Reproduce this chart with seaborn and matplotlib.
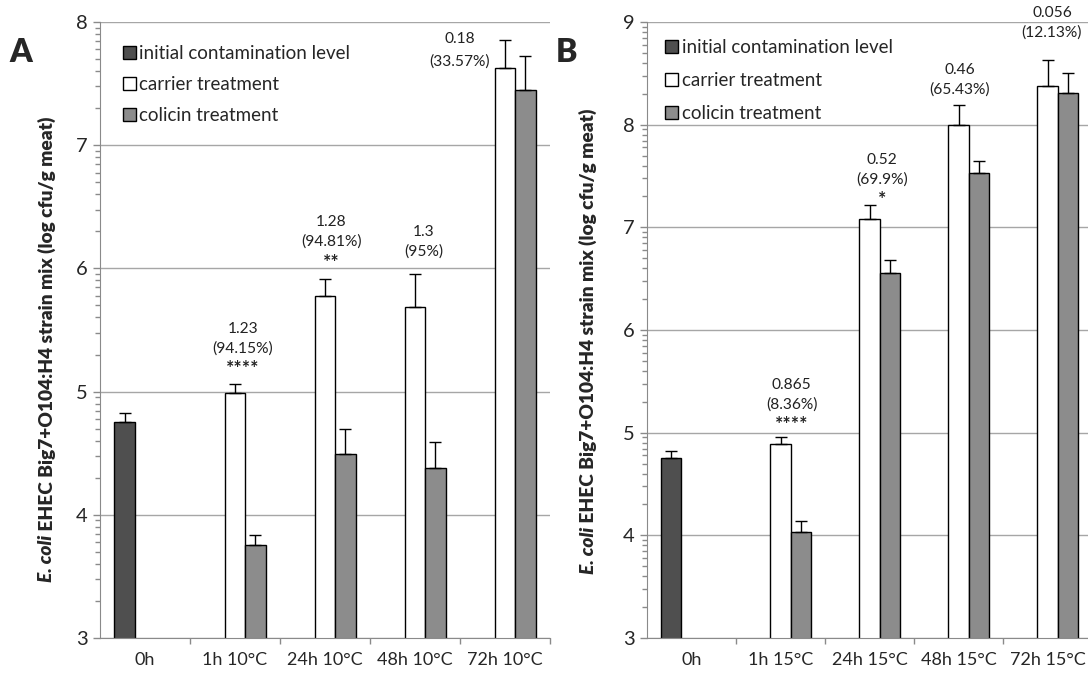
import numpy as np
import pandas as pd
import matplotlib
matplotlib.use("Agg")
import matplotlib.pyplot as plt
import matplotlib.patches as mpatches
import seaborn as sns

# series / colours
series = ["initial contamination level", "carrier treatment", "colicin treatment"]
colors = ["#4f4f4f", "#ffffff", "#8c8c8c"]

# panel A (10 °C)
times_a = ["0h", "1h 10°C", "24h 10°C", "48h 10°C", "72h 10°C"]
initial_a = [4.755, np.nan, np.nan, np.nan, np.nan]
carrier_a = [np.nan, 4.99, 5.78, 5.685, 7.63]
colicin_a = [np.nan, 3.756, 4.497, 4.38, 7.446]
initial_a_err = [0.068, np.nan, np.nan, np.nan, np.nan]
carrier_a_err = [np.nan, 0.075, 0.138, 0.266, 0.227]
colicin_a_err = [np.nan, 0.08, 0.196, 0.207, 0.276]

# panel B (15 °C)
times_b = ["0h", "1h 15°C", "24h 15°C", "48h 15°C", "72h 15°C"]
initial_b = [4.749, np.nan, np.nan, np.nan, np.nan]
carrier_b = [np.nan, 4.886, 7.082, 7.993, 8.377]
colicin_b = [np.nan, 4.033, 6.56, 7.525, 8.311]
initial_b_err = [0.072, np.nan, np.nan, np.nan, np.nan]
carrier_b_err = [np.nan, 0.068, 0.14, 0.194, 0.249]
colicin_b_err = [np.nan, 0.107, 0.12, 0.124, 0.191]

# reduction labels: (group, x shift, [(text, y), ...])
notes_a = [
    (1, 0.09, [("1.23", 5.511), ("(94.15%)", 5.353), ("****", 5.19)]),
    (2, 0.07, [("1.28", 6.378), ("(94.81%)", 6.217), ("**", 6.05)]),
    (3, 0.10, [("1.3", 6.299), ("(95%)", 6.136)]),
    (4, -0.5, [("0.18", 7.865), ("(33.57%)", 7.676)]),
]
notes_b = [
    (1, 0.127, [("0.865", 5.46), ("(8.36%)", 5.27), ("****", 5.08)]),
    (2, 0.14, [("0.52", 7.656), ("(69.9%)", 7.469), ("*", 7.27)]),
    (3, 0.01, [("0.46", 8.528), ("(65.43%)", 8.338)]),
    (4, 0.05, [("0.056", 9.085), ("(12.13%)", 8.895)]),
]

sns.set_style("white")
plt.rcParams['font.family'] = ['Lato', 'DejaVu Sans']

grid_col = "#a6a6a6"
axis_col = "#8a8a8a"


def long_table(times, vals, errs):
    rows = []
    for s, v, e in zip(series, vals, errs):
        for t, y, err in zip(times, v, e):
            if not np.isnan(y):
                rows.append({"time": t, "series": s, "value": y, "err": err})
    return pd.DataFrame(rows)


def draw_panel(ax, times, vals, errs, ymax, notes):
    df = long_table(times, vals, errs)
    sns.barplot(data=df, x="time", y="value", hue="series", order=times,
                hue_order=series, palette=colors, width=0.68, dodge=True,
                edgecolor="black", linewidth=1, errorbar=None, legend=False,
                saturation=1, ax=ax, zorder=2)
    # plus-only error bars at the bar tops
    for cont, s in zip(ax.containers, series):
        sub = df[df["series"] == s]
        for bar in cont:
            h = bar.get_height()
            if np.isnan(h):
                continue
            err = sub.loc[np.isclose(sub["value"], h), "err"].iloc[0]
            xc = bar.get_x() + bar.get_width() / 2
            ax.errorbar(xc, h, yerr=[[0], [err]], fmt="none", ecolor="black",
                        elinewidth=1, capsize=4.3, capthick=1, zorder=3)

    ax.set_ylim(3, ymax)
    ax.set_xlim(-0.5, 4.5)
    ax.set_yticks(range(3, ymax + 1))
    ax.set_yticks([n + np.log10(k) for n in range(3, ymax) for k in range(2, 10)], minor=True)
    ax.set_xticks(range(len(times)))
    ax.set_xticks([i + 0.5 for i in range(len(times))], minor=True)
    ax.set_xticklabels(times)
    ax.set_xlabel("")
    ax.set_ylabel("")
    ax.yaxis.grid(True, which="major", color=grid_col, lw=1)
    ax.set_axisbelow(True)
    for side in ["top", "right"]:
        ax.spines[side].set_visible(False)
    for side in ["left", "bottom"]:
        ax.spines[side].set_color(axis_col)
    ax.tick_params(axis="y", which="major", direction="out", length=5, width=1,
                   color=axis_col, left=True, labelsize=14.5, pad=4)
    ax.tick_params(axis="y", which="minor", direction="out", length=3.5, width=1,
                   color=axis_col, left=True)
    ax.tick_params(axis="x", which="major", length=0, labelsize=13, pad=10)
    ax.tick_params(axis="x", which="minor", direction="out", length=4, width=1,
                   color=axis_col, bottom=True)

    for g, dx, lines in notes:
        for txt, y in lines:
            star = txt.startswith("*")
            ax.text(g + dx, y, txt, ha="center", va="center",
                    fontsize=14 if star else 11.2,
                    fontweight="bold" if star else "normal",
                    color="#222222", clip_on=False)

    handles = [mpatches.Patch(facecolor=c, edgecolor="black", lw=1, label=s)
               for s, c in zip(series, colors)]
    return handles


fig = plt.figure(figsize=(10.88, 6.79), dpi=100)
ax_a = fig.add_axes([100 / 1088, 41 / 679, 450 / 1088, 616 / 679])
ax_b = fig.add_axes([647 / 1088, 41 / 679, 445 / 1088, 616 / 679])

h = draw_panel(ax_a, times_a, [initial_a, carrier_a, colicin_a],
               [initial_a_err, carrier_a_err, colicin_a_err], 8, notes_a)
draw_panel(ax_b, times_b, [initial_b, carrier_b, colicin_b],
           [initial_b_err, carrier_b_err, colicin_b_err], 9, notes_b)

for ax, anchor, sp in [(ax_a, (0.05, 0.963), 0.75), (ax_b, (0.04, 0.972), 0.85)]:
    ax.legend(handles=h, loc="upper left", bbox_to_anchor=anchor, frameon=False,
              fontsize=13.5, handlelength=0.7, handleheight=0.7, handletextpad=0.2,
              labelspacing=sp, borderpad=0, borderaxespad=0)

# panel letters
fig.text(21 / 1088, 1 - 52 / 679, "A", fontsize=23, fontweight="heavy", ha="center", va="center")
fig.text(567 / 1088, 1 - 52 / 679, "B", fontsize=23, fontweight="heavy", ha="center", va="center")

# y labels: italic species name + rest
for xc, ybot in [(47, 582), (588, 574)]:
    t1 = fig.text(xc / 1088, 1 - ybot / 679, "E. coli", rotation=90, fontsize=13.8,
                  fontweight="heavy", style="italic", ha="center", va="bottom")
    ax_a.annotate(" EHEC Big7+O104:H4 strain mix (log cfu/g meat)", xy=(0.5, 1.0),
                  xycoords=t1, rotation=90, fontsize=13.8, fontweight="heavy",
                  ha="center", va="bottom", annotation_clip=False)

fig.savefig("out.png", dpi=100)
